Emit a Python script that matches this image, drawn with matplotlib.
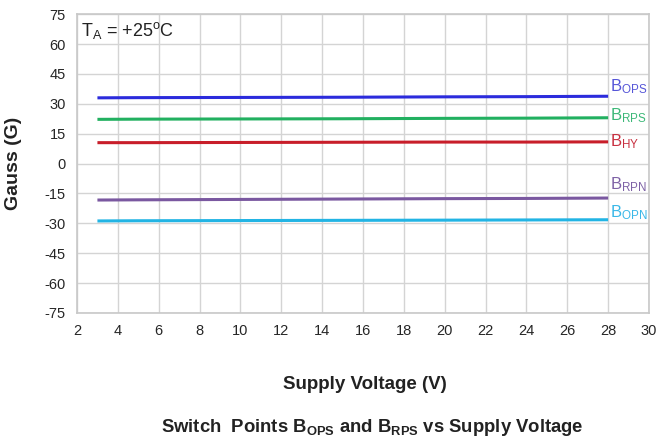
import numpy as np
import matplotlib
matplotlib.use("Agg")
import matplotlib.pyplot as plt

plt.rcParams['font.family'] = ['Liberation Sans', 'DejaVu Sans']
plt.rcParams['mathtext.fontset'] = 'custom'
plt.rcParams['mathtext.rm'] = 'Liberation Sans'
plt.rcParams['mathtext.it'] = 'Liberation Sans'
plt.rcParams['mathtext.bf'] = 'Liberation Sans:bold'
plt.rcParams['axes.unicode_minus'] = False

# supply voltage (V) and switch points (G)
vsup = [3, 5, 10, 15, 20, 24, 28]
b_ops = [33.0, 33.1, 33.2, 33.3, 33.5, 33.6, 33.8]
b_rps = [22.2, 22.3, 22.4, 22.5, 22.7, 22.8, 23.0]
b_hy = [10.5, 10.5, 10.6, 10.7, 10.8, 10.8, 10.9]
b_rpn = [-18.3, -18.2, -18.0, -17.8, -17.6, -17.5, -17.3]
b_opn = [-28.8, -28.7, -28.6, -28.5, -28.4, -28.3, -28.2]

# (values, line colour, label colour, subscript, label offset in G)
series = [
    (b_ops, '#2b2bdc', '#5656d8', 'OPS', 4.6),
    (b_rps, '#22b060', '#3cb878', 'RPS', 1.3),
    (b_hy, '#c81e2a', '#c83040', 'HY', -0.1),
    (b_rpn, '#7a58a0', '#7e62a6', 'RPN', 6.5),
    (b_opn, '#22b4e4', '#3ab8e8', 'OPN', 3.4),
]

fig = plt.figure(figsize=(6.57, 4.43), dpi=100)
ax = fig.add_axes([0.1172, 0.2935, 0.8706, 0.6745])

for vals, lc, tc, name, off in series:
    ax.plot(vsup, vals, color=lc, linewidth=2.2, solid_capstyle='butt')
    ax.text(vsup[-1] + 0.1, vals[-1] + off, r'$\mathregular{B_{%s}}$' % name,
            color=tc, fontsize=12, ha='left', va='center')

ax.set_xlim(2, 30)
ax.set_ylim(-75, 75)
ax.set_xticks(np.arange(2, 31, 2))
ax.set_yticks(np.arange(-75, 76, 15))
ax.grid(True, color='#d4d4d4', linewidth=1.0)
ax.set_axisbelow(True)
ax.tick_params(length=0, labelsize=10.5, labelcolor='#262626', pad=8)
for s in ax.spines.values():
    s.set_color('#c8c8c8')
    s.set_linewidth(1.2)

ax.text(2.2, 67, r'$\mathregular{T_A}$ = +25$\mathregular{^o}$C', fontsize=13,
        color='#222222', ha='left', va='center')

fig.text(0.021, 0.632, 'Gauss (G)', fontsize=14, fontweight='bold',
         rotation=90, ha='center', va='center', color='#222222')
fig.text(0.556, 0.131, 'Supply Voltage (V)', fontsize=13.5, fontweight='bold',
         ha='center', va='center', color='#222222')
fig.text(0.567, 0.036, r'Switch  Points $\mathbf{B_{OPS}}$ and $\mathbf{B_{RPS}}$ vs Supply Voltage',
         fontsize=13.3, fontweight='bold', ha='center', va='center', color='#222222')

fig.savefig('out.png', dpi=100)
